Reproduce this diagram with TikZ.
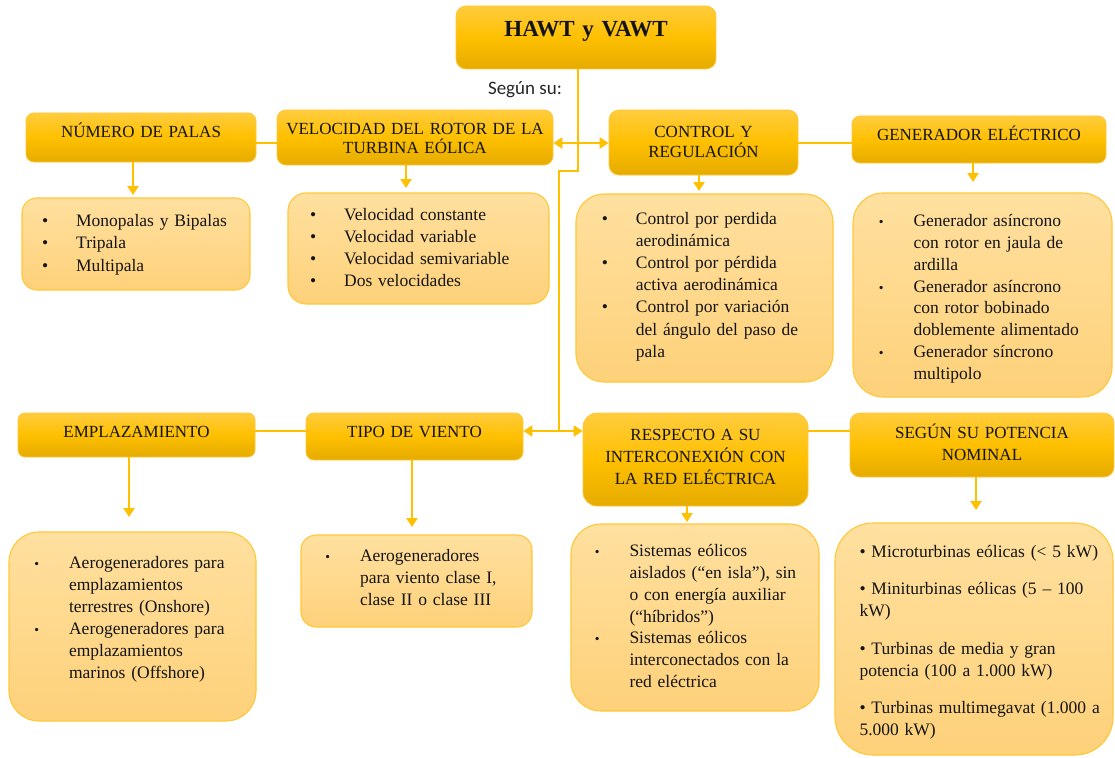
\documentclass[tikz,border=0pt]{standalone}
\usepackage{fontspec}
\setmainfont{Liberation Serif}
\newfontfamily\labelfont{Carlito}
\usetikzlibrary{arrows.meta}

\definecolor{gold}{HTML}{FFC000}
\definecolor{goldtop}{HTML}{FFCC3E}
\definecolor{goldbot}{HTML}{E5AB00}
\definecolor{goldedge}{HTML}{FFC73A}
\definecolor{paletop}{HTML}{FFE09F}
\definecolor{palebot}{HTML}{FED17A}
\definecolor{paleedge}{HTML}{FFC838}
\definecolor{ink}{HTML}{141414}

% bullets hung to the left of the text column
\newcommand\bigbul{\leavevmode\llap{\textbullet\hspace{28pt}}}
\newcommand\smallbul{\leavevmode\llap{{\fontsize{13.5}{13.5}\selectfont\textbullet}\hspace{30pt}}}

\tikzset{
  hdrbox/.style={draw=goldedge, line width=0.8pt, top color=goldtop, bottom color=goldbot, middle color=gold, inner sep=0pt},
  listbox/.style={draw=paleedge, line width=1.1pt, top color=paletop, bottom color=palebot, inner sep=0pt},
  hdrtext/.style={inner sep=0pt, text=ink, align=center, anchor=base},
  listtext/.style={inner sep=0pt, text=ink, text width=250pt, align=left, anchor=base west},
  link/.style={draw=gold, line width=2.6pt},
  arr/.style={link, -{Triangle[width=11pt,length=9pt]}},
  biarr/.style={link, {Triangle[width=11pt,length=9pt]}-{Triangle[width=11pt,length=9pt]}},
}

\begin{document}
\begin{tikzpicture}[x=1pt, y=-1pt]
\fill[white] (0,0) rectangle (1115,757);
\useasboundingbox (0,0) rectangle (1115,757);

% ---------- heading boxes ----------
\node[hdrbox, minimum width=260pt, minimum height=63pt, rounded corners=10pt] (h-title) at (586,37.5) {};
\node[hdrbox, minimum width=230pt, minimum height=49pt, rounded corners=8pt] (h-num) at (141,137.5) {};
\node[hdrbox, minimum width=276pt, minimum height=55pt, rounded corners=9pt] (h-vel) at (415,137.5) {};
\node[hdrbox, minimum width=189pt, minimum height=65pt, rounded corners=10pt] (h-ctl) at (703.5,142.5) {};
\node[hdrbox, minimum width=254pt, minimum height=47pt, rounded corners=8pt] (h-gen) at (979,139.5) {};
\node[hdrbox, minimum width=237pt, minimum height=44pt, rounded corners=7pt] (h-emp) at (136.5,435) {};
\node[hdrbox, minimum width=217pt, minimum height=47pt, rounded corners=8pt] (h-tipo) at (414.5,436.5) {};
\node[hdrbox, minimum width=225pt, minimum height=93pt, rounded corners=14pt] (h-resp) at (695.5,459.5) {};
\node[hdrbox, minimum width=264pt, minimum height=64pt, rounded corners=10pt] (h-pot) at (982,445) {};

% ---------- list boxes ----------
\node[listbox, minimum width=228pt, minimum height=92pt, rounded corners=15pt] (c-num) at (136,244) {};
\node[listbox, minimum width=261pt, minimum height=111pt, rounded corners=18pt] (c-vel) at (418.5,248.5) {};
\node[listbox, minimum width=257pt, minimum height=188pt, rounded corners=28pt] (c-ctl) at (704.5,288) {};
\node[listbox, minimum width=259pt, minimum height=204pt, rounded corners=30pt] (c-gen) at (982.5,295) {};
\node[listbox, minimum width=247pt, minimum height=189pt, rounded corners=30pt] (c-emp) at (132.5,626.5) {};
\node[listbox, minimum width=231pt, minimum height=92pt, rounded corners=15pt] (c-tipo) at (416.5,581) {};
\node[listbox, minimum width=248pt, minimum height=187pt, rounded corners=30pt] (c-resp) at (695,617.5) {};
\node[listbox, minimum width=278pt, minimum height=232pt, rounded corners=38pt] (c-pot) at (974,639) {};

% ---------- heading texts ----------
\node[hdrtext, text width=260pt, font=\bfseries\fontsize{23}{27}\selectfont] (t-title) at (586,36.7) {HAWT y VAWT};
\node[hdrtext, text width=230pt, font=\fontsize{17}{20}\selectfont] (t-num) at (141,137.3) {NÚMERO DE PALAS};
\node[hdrtext, text width=276pt, font=\fontsize{17}{18.5}\selectfont] (t-vel) at (415,135) {VELOCIDAD DEL ROTOR DE LA\\TURBINA EÓLICA};
\node[hdrtext, text width=189pt, font=\fontsize{17}{20}\selectfont] (t-ctl) at (703.5,137.3) {CONTROL Y\\REGULACIÓN};
\node[hdrtext, text width=254pt, font=\fontsize{17}{20}\selectfont] (t-gen) at (979,140.7) {GENERADOR ELÉCTRICO};
\node[hdrtext, text width=237pt, font=\fontsize{17}{20}\selectfont] (t-emp) at (136.5,437.3) {EMPLAZAMIENTO};
\node[hdrtext, text width=217pt, font=\fontsize{17}{20}\selectfont] (t-tipo) at (414.5,437.3) {TIPO DE VIENTO};
\node[hdrtext, text width=225pt, font=\fontsize{17}{21.7}\selectfont] (t-resp) at (695.5,440.7) {RESPECTO A SU\\INTERCONEXIÓN CON\\LA RED ELÉCTRICA};
\node[hdrtext, text width=264pt, font=\fontsize{17}{21.7}\selectfont] (t-pot) at (982,438.3) {SEGÚN SU POTENCIA\\NOMINAL};

\node[inner sep=0pt, anchor=base, text=black!85, font=\labelfont\fontsize{19}{22}\selectfont] (t-segun) at (525,95) {Según su:};

% ---------- list texts ----------
\node[listtext, font=\fontsize{17.5}{22.5}\selectfont] (l-num) at (76,226)
  {\bigbul Monopalas y Bipalas\\ \bigbul Tripala\\ \bigbul Multipala};
\node[listtext, font=\fontsize{17.5}{22.2}\selectfont] (l-vel) at (344,220)
  {\bigbul Velocidad constante\\ \bigbul Velocidad variable\\ \bigbul Velocidad semivariable\\ \bigbul Dos velocidades};
\node[listtext, font=\fontsize{17.5}{22.2}\selectfont] (l-ctl) at (635.7,224)
  {\bigbul Control por perdida\\ aerodinámica\\ \bigbul Control por pérdida\\ activa aerodinámica\\ \bigbul Control por variación\\ del ángulo del paso de\\ pala};
\node[listtext, font=\fontsize{17.5}{21.8}\selectfont] (l-gen) at (913.3,226.7)
  {\smallbul Generador asíncrono\\ con rotor en jaula de\\ ardilla\\ \smallbul Generador asíncrono\\ con rotor bobinado\\ doblemente alimentado\\ \smallbul Generador síncrono\\ multipolo};
\node[listtext, font=\fontsize{17.5}{22}\selectfont] (l-emp) at (68.9,568)
  {\smallbul Aerogeneradores para\\ emplazamientos\\ terrestres (Onshore)\\ \smallbul Aerogeneradores para\\ emplazamientos\\ marinos (Offshore)};
\node[listtext, font=\fontsize{17.5}{22}\selectfont] (l-tipo) at (359.8,561.7)
  {\smallbul Aerogeneradores\\ para viento clase I,\\ clase II o clase III};
\node[listtext, font=\fontsize{17.5}{21.8}\selectfont] (l-resp) at (629.3,556.7)
  {\smallbul Sistemas eólicos\\ aislados (“en isla”), sin\\ o con energía auxiliar\\ (“híbridos”)\\ \smallbul Sistemas eólicos\\ interconectados con la\\ red eléctrica};
\node[listtext, font=\fontsize{17.5}{22}\selectfont] (l-pot) at (859.3,557.3)
  {\textbullet\ Microturbinas eólicas (< 5 kW)\\[15.5pt]
   \textbullet\ Miniturbinas eólicas (5 -- 100\\ kW)\\[15.5pt]
   \textbullet\ Turbinas de media y gran\\ potencia (100 a 1.000 kW)\\[15.5pt]
   \textbullet\ Turbinas multimegavat (1.000 a\\ 5.000 kW)};

% ---------- connectors ----------
\coordinate (yTop) at (0,143);
\coordinate (yBot) at (0,431);
\coordinate (trunkA) at (578,171);
\coordinate (trunkB) at (559,171);
\coordinate (trunkC) at (559,431);

\draw[link] (h-title.south -| trunkA) -- (trunkA) -- (trunkB) -- (trunkC);

\draw[link] (h-num.east |- yTop) -- (h-vel.west |- yTop);
\draw[biarr] (h-vel.east |- yTop) -- (h-ctl.west |- yTop);
\draw[link] (h-ctl.east |- yTop) -- (h-gen.west |- yTop);
\draw[link] (h-emp.east |- yBot) -- (h-tipo.west |- yBot);
\draw[biarr] (h-tipo.east |- yBot) -- (h-resp.west |- yBot);
\draw[link] (h-resp.east |- yBot) -- (h-pot.west |- yBot);

\coordinate (d-num) at (133,195);
\coordinate (d-vel) at (406,188);
\coordinate (d-ctl) at (699,191);
\coordinate (d-gen) at (973,182);
\coordinate (d-emp) at (129,517);
\coordinate (d-tipo) at (412,527);
\coordinate (d-resp) at (687,522);
\coordinate (d-pot) at (976,510);

\draw[arr] (h-num.south -| d-num) -- (d-num);
\draw[arr] (h-vel.south -| d-vel) -- (d-vel);
\draw[arr] (h-ctl.south -| d-ctl) -- (d-ctl);
\draw[arr] (h-gen.south -| d-gen) -- (d-gen);
\draw[arr] (h-emp.south -| d-emp) -- (d-emp);
\draw[arr] (h-tipo.south -| d-tipo) -- (d-tipo);
\draw[arr] (h-resp.south -| d-resp) -- (d-resp);
\draw[arr] (h-pot.south -| d-pot) -- (d-pot);
\end{tikzpicture}
\end{document}
